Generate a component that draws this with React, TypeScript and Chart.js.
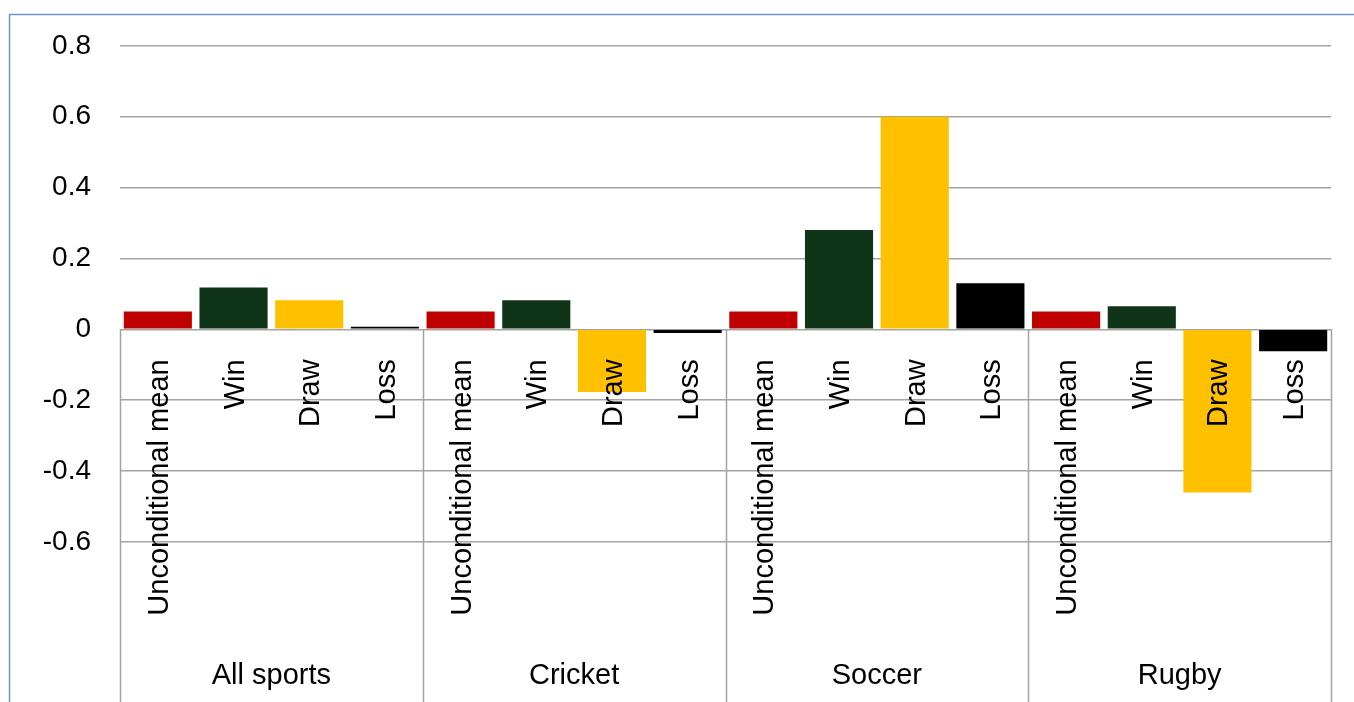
import React, { useEffect, useRef } from "react";
import { Chart, registerables } from "chart.js";

Chart.register(...registerables);

const sports = ["All sports", "Cricket", "Soccer", "Rugby"];
const outcomes = ["Unconditional mean", "Win", "Draw", "Loss"];
const unconditionalMean = [0.05, 0.05, 0.05, 0.05];
const winValues = [0.118, 0.082, 0.28, 0.065];
const drawValues = [0.082, -0.177, 0.6, -0.46];
const lossValues = [0.007, -0.01, 0.13, -0.062];
const outcomeColors = ["#C00000", "#0F3417", "#FFC000", "#000000"];

const FONT = "'Liberation Sans', Arial, sans-serif";
const GRID = "#a3a3a3";

export default function App() {
  const ref = useRef<HTMLCanvasElement | null>(null);

  useEffect(() => {
    if (!ref.current) return;
    const labels: string[] = [];
    const values: number[] = [];
    const colors: string[] = [];
    const series = [unconditionalMean, winValues, drawValues, lossValues];
    sports.forEach((_, g) => {
      outcomes.forEach((o, k) => {
        labels.push(o);
        values.push(series[k][g]);
        colors.push(outcomeColors[k]);
      });
    });

    const axisPlugin = {
      id: "multiLevelAxis",
      beforeDraw(chart: any) {
        const ctx = chart.ctx;
        ctx.save();
        ctx.strokeStyle = "#6f96cc";
        ctx.lineWidth = 1.5;
        ctx.beginPath();
        ctx.moveTo(9.5, 702);
        ctx.lineTo(9.5, 14.5);
        ctx.lineTo(1354, 14.5);
        ctx.stroke();
        ctx.restore();
      },
      afterDatasetsDraw(chart: any) {
        const ctx = chart.ctx;
        const x = chart.scales.x;
        const y = chart.scales.y;
        const y0 = y.getPixelForValue(0);
        ctx.save();
        // group separators
        ctx.strokeStyle = GRID;
        ctx.lineWidth = 1.5;
        for (let g = 0; g <= sports.length; g++) {
          const px = Math.round(x.getPixelForValue(g * outcomes.length - 0.5)) + 0.5;
          ctx.beginPath();
          ctx.moveTo(px, y0);
          ctx.lineTo(px, 702);
          ctx.stroke();
        }
        // rotated outcome labels
        ctx.fillStyle = "#000";
        ctx.font = `29px ${FONT}`;
        labels.forEach((lab, i) => {
          const px = x.getPixelForValue(i) + 2;
          ctx.save();
          ctx.translate(px, y0 + 30);
          ctx.rotate(-Math.PI / 2);
          ctx.textAlign = "right";
          ctx.textBaseline = "middle";
          ctx.fillText(lab, 0, 0);
          ctx.restore();
        });
        // group labels
        ctx.textAlign = "center";
        ctx.textBaseline = "middle";
        sports.forEach((s, g) => {
          const a = x.getPixelForValue(g * outcomes.length - 0.5);
          const b = x.getPixelForValue((g + 1) * outcomes.length - 0.5);
          ctx.fillText(s, (a + b) / 2, 676);
        });
        ctx.restore();
      },
    };

    const chart = new Chart(ref.current, {
      type: "bar",
      data: {
        labels,
        datasets: [
          {
            data: values,
            backgroundColor: colors,
            borderWidth: 0,
            barPercentage: 0.9,
            categoryPercentage: 1,
          },
        ],
      },
      options: {
        animation: false,
        responsive: false,
        devicePixelRatio: 1,
        layout: { padding: { left: 0, right: 23, top: 45, bottom: 160 } },
        plugins: { legend: { display: false }, tooltip: { enabled: false } },
        scales: {
          x: { display: false },
          y: {
            min: -0.6,
            max: 0.8,
            afterFit(scale: any) {
              scale.width = 120;
            },
            border: { display: false },
            grid: { color: GRID, lineWidth: 1.5, drawTicks: false },
            ticks: {
              stepSize: 0.2,
              padding: 29,
              color: "#000",
              font: { family: FONT, size: 28 },
              callback: (v: any) => String(Number(Number(v).toFixed(1))),
            },
          },
        },
      },
      plugins: [axisPlugin],
    });
    return () => chart.destroy();
  }, []);

  return (
    <div style={{ position: "absolute", left: 0, top: 0, width: 1354, height: 702, background: "#fff" }}>
      <canvas ref={ref} width={1354} height={702} style={{ width: 1354, height: 702, display: "block" }} />
    </div>
  );
}
